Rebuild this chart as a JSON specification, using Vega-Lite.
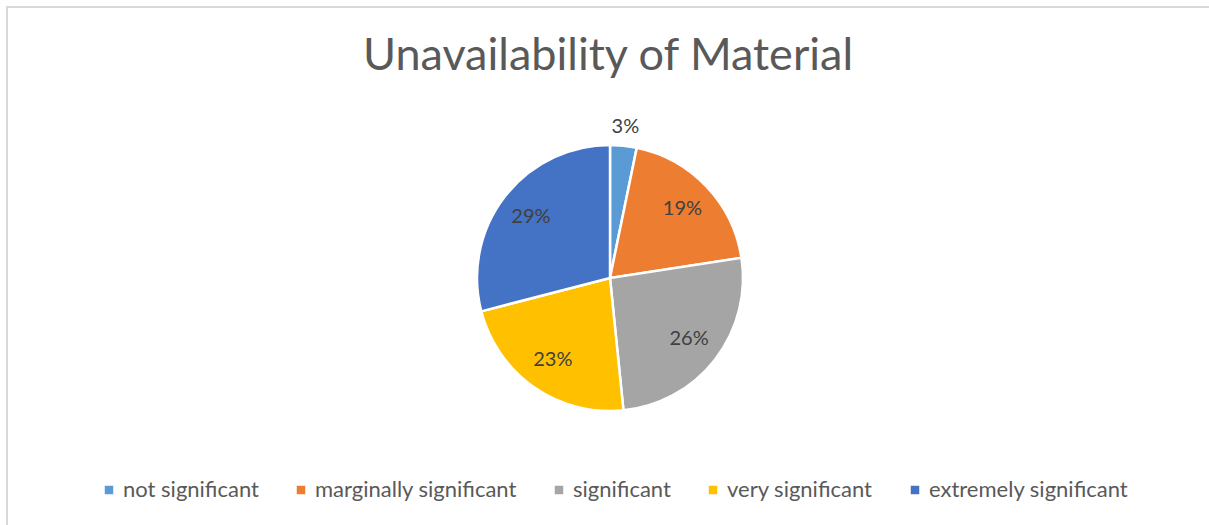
{
  "$schema": "https://vega.github.io/schema/vega-lite/v6.json",
  "autosize": {"type": "none"},
  "padding": {"left": 7, "top": 7, "right": 0, "bottom": 0},
  "width": 1202,
  "height": 518,
  "background": "white",
  "title": {
    "text": "Unavailability of Material",
    "font": "Lato",
    "fontSize": 45,
    "fontWeight": "normal",
    "color": "#595959",
    "anchor": "middle",
    "baseline": "alphabetic",
    "offset": -109
  },
  "config": {
    "font": "Lato"
  },
  "data": {
    "values": [
      {"category": "not significant", "count": 1, "ord": 1, "label": "3%"},
      {"category": "marginally significant", "count": 6, "ord": 2, "label": "19%"},
      {"category": "significant", "count": 8, "ord": 3, "label": "26%"},
      {"category": "very significant", "count": 7, "ord": 4, "label": "23%"},
      {"category": "extremely significant", "count": 9, "ord": 5, "label": "29%"}
    ]
  },
  "layer": [
    {
      "data": {"values": [{"x0": 0, "x1": 1, "y0": 0, "y1": 1}]},
      "mark": {"type": "rect", "fill": null, "stroke": "#d9d9d9", "strokeWidth": 2, "clip": false},
      "encoding": {
        "x": {"field": "x0", "type": "quantitative", "axis": null, "scale": {"domain": [0, 0.95], "nice": false, "zero": false}},
        "x2": {"field": "x1"},
        "y": {"field": "y0", "type": "quantitative", "axis": null, "scale": {"domain": [0.05, 1], "nice": false, "zero": false}},
        "y2": {"field": "y1"}
      }
    },
    {
      "mark": {"type": "arc", "outerRadius": 133, "stroke": "white", "strokeWidth": 2.5, "xOffset": 2, "yOffset": 12},
      "encoding": {
        "theta": {"field": "count", "type": "quantitative", "stack": true},
        "order": {"field": "ord", "type": "quantitative"},
        "color": {
          "field": "category",
          "type": "nominal",
          "scale": {
            "domain": ["not significant", "marginally significant", "significant", "very significant", "extremely significant"],
            "range": ["#5B9BD5", "#ED7D31", "#A5A5A5", "#FFC000", "#4472C4"]
          },
          "legend": {
            "title": null,
            "orient": "none",
            "legendX": 91,
            "legendY": 472,
            "direction": "horizontal",
            "columns": 5,
            "columnPadding": 31,
            "symbolType": "square",
            "symbolSize": 72,
            "symbolStrokeWidth": 0,
            "labelFont": "Lato",
            "labelFontSize": 22,
            "labelLimit": 0,
            "labelColor": "#595959",
            "labelOffset": 3
          }
        }
      }
    },
    {
      "mark": {"type": "text", "radius": 100, "fontSize": 20, "color": "#404040", "font": "Lato", "xOffset": 2, "yOffset": 12},
      "encoding": {
        "theta": {"field": "count", "type": "quantitative", "stack": true},
        "order": {"field": "ord", "type": "quantitative"},
        "text": {"field": "label"},
        "opacity": {"condition": {"test": "datum.ord == 1", "value": 0}, "value": 1}
      }
    },
    {
      "mark": {"type": "text", "radius": 152, "fontSize": 20, "color": "#404040", "font": "Lato", "xOffset": 2, "yOffset": 12},
      "encoding": {
        "theta": {"field": "count", "type": "quantitative", "stack": true},
        "order": {"field": "ord", "type": "quantitative"},
        "text": {"field": "label"},
        "opacity": {"condition": {"test": "datum.ord == 1", "value": 1}, "value": 0}
      }
    }
  ]
}
